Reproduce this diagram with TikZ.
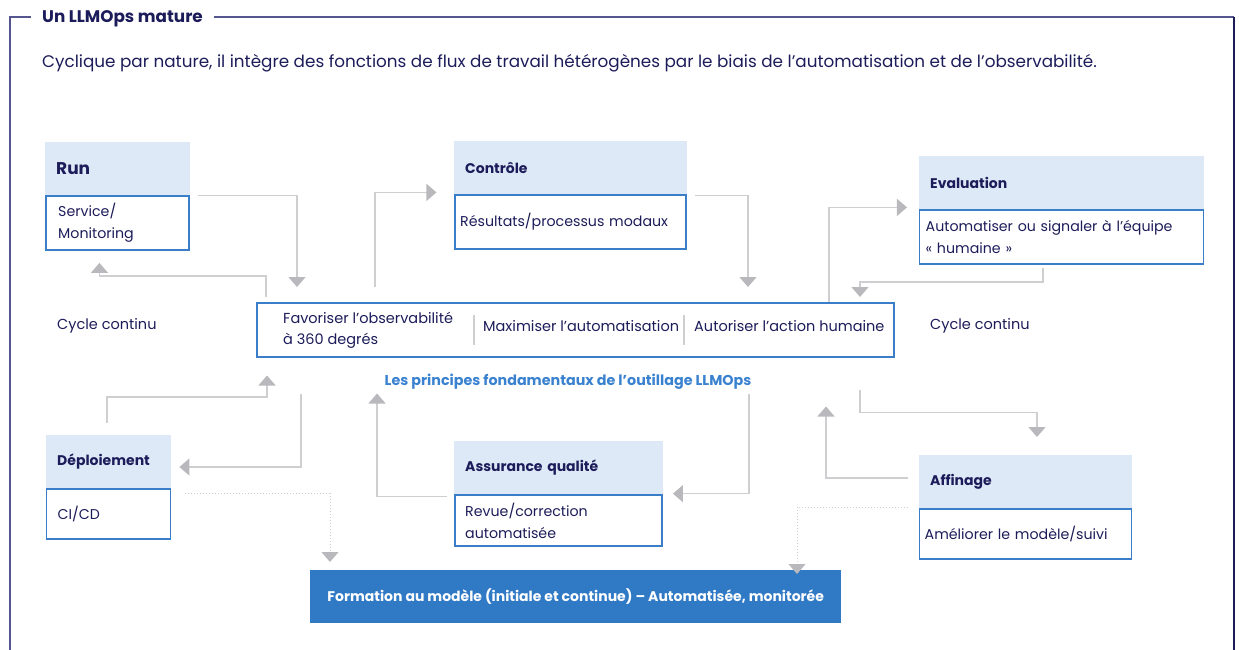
\documentclass[tikz,border=0pt]{standalone}
\usepackage{fontspec}
\setmainfont{Poppins}
\usetikzlibrary{positioning,arrows.meta,calc}
\definecolor{navy}{HTML}{1C1C5A}
\definecolor{framecol}{HTML}{55558F}
\definecolor{headfill}{HTML}{DEE9F7}
\definecolor{boxblue}{HTML}{3A7DC9}
\definecolor{barblue}{HTML}{2F79C5}
\definecolor{linegray}{HTML}{CFCFD2}
\definecolor{tipgray}{HTML}{B9B9BD}
\definecolor{princblue}{HTML}{3A82D0}
\tikzset{x=1pt, y=-1pt,
    every node/.style={text=navy},
    head/.style={fill=headfill, anchor=north west, minimum height=53pt, align=left,
        inner xsep=11pt, font=\fontsize{14}{17}\selectfont\bfseries},
    body/.style 2 args={draw=boxblue, line width=1.5pt, align=left, text width=#1,
        inner xsep=#2, inner ysep=0pt, font=\fontsize{14.2}{22}\selectfont},
    pr/.style={anchor=west, inner sep=0pt, align=left, font=\fontsize{14.5}{21}\selectfont},
    flow/.style={draw=linegray, line width=1.3pt,
        -{Triangle[width=17pt,length=10pt,color=tipgray]}},
    feed/.style={draw=linegray, line width=1pt, dotted,
        -{Triangle[width=17pt,length=10pt,color=tipgray]}},
    }
\begin{document}
\begin{tikzpicture}
\useasboundingbox (0,0) rectangle (1239,650);
\draw[framecol, line width=1.5pt] (10,650) -- (10,17) -- (1234,17);
\draw[navy, line width=1.5pt] (1234,17) -- (1234,650);
\node[fill=white, inner xsep=11pt, anchor=west, font=\fontsize{16.8}{20}\selectfont\bfseries] (title) at (31,19) {Un LLMOps mature};
\node[anchor=west, inner sep=0pt, font=\fontsize{16.8}{20}\selectfont] (intro) at (42,63)
    {Cyclique par nature, il intègre des fonctions de flux de travail hétérogènes par le biais de l'automatisation et de l'observabilité.};

% boxes
\node[head, text width=123pt, font=\fontsize{17}{20}\selectfont\bfseries] (runH) at (45,142) {Run};
\node[body={119pt}{12pt}, minimum height=54pt, below=0pt of runH] (runB) {Service/\\Monitoring};
\node[head, text width=211pt] (ctrlH) at (454,141) {Contrôle};
\node[body={221pt}{5pt}, minimum height=54pt, below=0pt of ctrlH] (ctrlB) {Résultats/processus modaux};
\node[head, text width=263pt] (evalH) at (919,156) {Evaluation};
\node[body={272pt}{6pt}, minimum height=54pt, below=0pt of evalH] (evalB) {Automatiser ou signaler à l’équipe\\« humaine »};
\node[head, text width=103pt] (depH) at (46,435) {Déploiement};
\node[body={102pt}{11pt}, minimum height=50pt, below=0pt of depH] (depB) {CI/CD};
\node[head, text width=187pt] (qaH) at (454,441) {Assurance qualité};
\node[body={187pt}{10pt}, minimum height=51pt, below=0pt of qaH] (qaB) {Revue/correction\\automatisée};
\node[head, text width=191pt] (affH) at (919,455) {Affinage};
\node[body={202pt}{5pt}, minimum height=50pt, below=0pt of affH] (affB) {Améliorer le modèle/suivi};

% principes
\node[draw=boxblue, line width=1.5pt, minimum width=637pt, minimum height=54pt, anchor=north west] (princ) at (256,302) {};
\node[pr] (obs) at (283,330.5) {Favoriser l’observabilité\\à 360 degrés};
\node[pr] (auto) at (483,326) {Maximiser l’automatisation};
\node[pr] (hum) at (694,326) {Autoriser l’action humaine};
\draw[linegray, line width=1.3pt] (474,315) -- (474,345) (684,315) -- (684,345);
\node[inner sep=0pt, text=princblue, font=\fontsize{14.3}{17}\selectfont\bfseries] (princT) at (568,382) {Les principes fondamentaux de l’outillage LLMOps};
\node[pr] (cycL) at (57,326) {Cycle continu};
\node[pr] (cycR) at (930,326) {Cycle continu};

\node[fill=barblue, text=white, minimum width=531pt, minimum height=53pt, anchor=north west,
    font=\fontsize{14}{17}\selectfont\bfseries] (train) at (310,570) {Formation au modèle (initiale et continue) – Automatisée, monitorée};

% arrow ends on the principles box
\coordinate (inRun) at ($(princ.north west)+(41,-15)$);
\coordinate (outRun) at ($(princ.north west)+(10,-5)$);
\coordinate (outCtrl) at ($(princ.north west)+(119,-15)$);
\coordinate (inCtrl) at ($(princ.north west)+(492,-15)$);
\coordinate (outEval) at ($(princ.north west)+(573,0)$);
\coordinate (inEval) at ($(princ.north west)+(604,-5)$);
\coordinate (inDep) at ($(princ.south west)+(11,18)$);
\coordinate (outDep) at ($(princ.south west)+(45,36)$);
\coordinate (inQa) at ($(princ.south west)+(121,36)$);
\coordinate (outQa) at ($(princ.south west)+(493,36)$);
\coordinate (inAff) at ($(princ.south west)+(570,49)$);
\coordinate (outAff) at ($(princ.south west)+(604,32)$);

\draw[flow] (runB.north east) ++(8,0) -| (inRun);
\draw[flow] (outRun) -- ++(0,-21) -| ($(runB.south west)+(54,12)$);
\draw[flow] (outCtrl) |- ($(ctrlB.north west)+(-18,-2)$);
\draw[flow] (ctrlB.north east) ++(8,1) -| (inCtrl);
\draw[flow] (outEval) |- ($(evalB.north west)+(-12,-2)$);
\draw[flow] (evalB.south west) ++(124,3) -- ++(0,14) -| (inEval);
\draw[flow] (outAff) -- ++(0,23) -| ($(affH.north west)+(118,-18)$);
\draw[flow] (affH.north west) ++(-11,23) -| (inAff);
\draw[feed] (affB.north west) ++(-11,-1) -| ($(train.north west)+(487,4)$);
\draw[flow] (outQa) |- ($(qaB.east)+(10,-27)$);
\draw[flow] (qaH.south west) ++(-7,2) -| (inQa);
\draw[flow] (depH.north west) ++(61,-12) -- ++(0,-26) -| (inDep);
\draw[flow] (outDep) |- ($(depH.north east)+(8,32)$);
\draw[feed] (depB.north east) ++(14,5) -| ($(train.north west)+(20,-8)$);
\end{tikzpicture}
\end{document}
